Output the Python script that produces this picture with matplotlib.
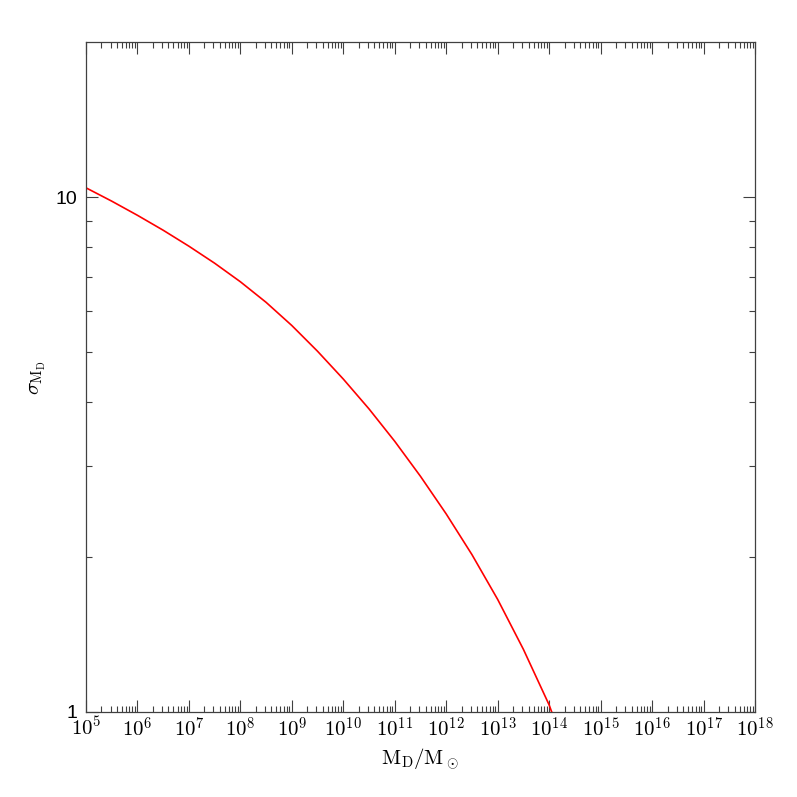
import numpy as np
import matplotlib
matplotlib.use('Agg')
import matplotlib.pyplot as plt
import matplotlib.ticker as ticker

# (log10 of mass, sigma)
log_mass = [5.0, 5.5, 6.0, 6.5, 7.0, 7.5, 8.0, 8.5, 9.0, 9.5, 10.0,
            10.5, 11.0, 11.5, 12.0, 12.5, 13.0, 13.5, 14.0, 14.05]
sigma = [10.42, 9.817, 9.215, 8.620, 8.026, 7.438, 6.846, 6.244, 5.629, 5.017,
         4.431, 3.877, 3.354, 2.868, 2.424, 2.021, 1.654, 1.323, 1.032, 1.0]

xdecades = list(range(5, 19))
xlim = (1e5, 1e18)
ylim = (1, 20)

plt.rcParams['mathtext.fontset'] = 'cm'
axcol = '#404040'

fig = plt.figure(figsize=(7.97, 7.97), dpi=100)
ax = fig.add_axes([86/797, 85/797, 669/797, 670/797])

mass = 10**np.array(log_mass)
ax.plot(mass, sigma, color='red', lw=1.2)

ax.set_xscale('log')
ax.set_yscale('log')
ax.set_xlim(*xlim)
ax.set_ylim(*ylim)

ax.xaxis.set_major_locator(ticker.FixedLocator([10.0**d for d in xdecades]))
ax.xaxis.set_minor_locator(ticker.LogLocator(base=10, subs=np.arange(2, 10), numticks=50))
ax.xaxis.set_major_formatter(ticker.FuncFormatter(
    lambda v, p: r'$10^{%d}$' % int(round(np.log10(v)))))
ax.xaxis.set_minor_formatter(ticker.NullFormatter())

ax.yaxis.set_major_locator(ticker.FixedLocator([1, 10]))
ax.yaxis.set_minor_locator(ticker.FixedLocator([2, 3, 4, 5, 6, 7, 8, 9]))
ax.yaxis.set_major_formatter(ticker.FuncFormatter(lambda v, p: '%d' % v))
ax.yaxis.set_minor_formatter(ticker.NullFormatter())

ax.tick_params(which='both', direction='in', top=True, right=True, color=axcol)
ax.tick_params(which='major', length=8.5, width=0.8)
ax.tick_params(which='minor', length=4.3, width=0.8)
ax.tick_params(axis='x', labelsize=15, pad=3)
ax.tick_params(axis='y', labelsize=14, pad=6)
for lab in ax.get_yticklabels():
    lab.set_family(['Liberation Sans', 'DejaVu Sans'])

for s in ax.spines.values():
    s.set_color(axcol)
    s.set_linewidth(0.9)

ax.set_xlabel(r'$\mathrm{M_D/M_\odot}$', fontsize=15, labelpad=4)
ax.set_ylabel(r'$\sigma_{\mathrm{M_D}}$', fontsize=15, labelpad=6)

fig.savefig('out.png', dpi=100)
